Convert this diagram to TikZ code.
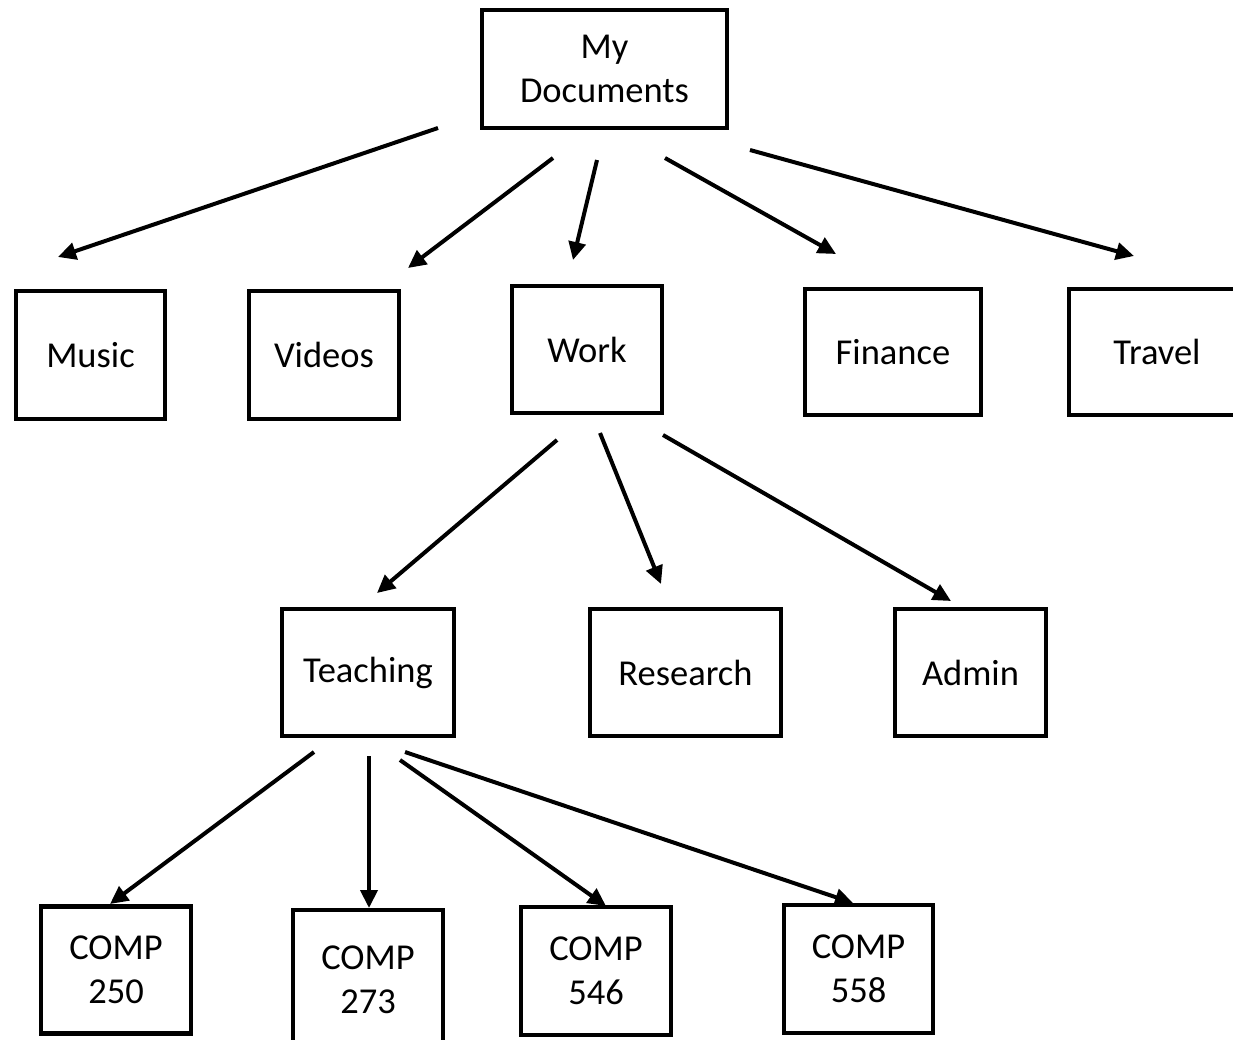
\documentclass[tikz,border=0pt]{standalone}
\usepackage{fontspec}
\setmainfont{Carlito}
\usetikzlibrary{arrows.meta}

\tikzset{
  folder/.style={draw,line width=4.5pt,align=center,inner sep=0pt,
    font=\fontsize{36.5}{44}\selectfont},
  link/.style={-{Triangle[length=18pt,width=17pt]},line width=4pt}
}

\begin{document}
\begin{tikzpicture}[x=1pt,y=-1pt]
\useasboundingbox (0,0) rectangle (1233,1039);

% folders
\node[folder,minimum width=245pt,minimum height=118pt] (docs)    at (604.5,69)  {My\\Documents};

\node[folder,minimum width=149pt,minimum height=128pt] (music)   at (90.5,355)  {Music};
\node[folder,minimum width=150pt,minimum height=128pt] (videos)  at (324,355)   {Videos};
\node[folder,minimum width=150pt,minimum height=127pt] (work)    at (587,349.5) {Work};
\node[folder,minimum width=176pt,minimum height=126pt] (finance) at (893,352)   {Finance};
\node[folder,minimum width=176pt,minimum height=126pt] (travel)  at (1157,352)  {Travel};

\node[folder,minimum width=172pt,minimum height=127pt] (teach)   at (368,672.5) {Teaching};
\node[folder,minimum width=191pt,minimum height=127pt] (research) at (685.5,672.5) {Research};
\node[folder,minimum width=151pt,minimum height=127pt] (admin)   at (970.5,672.5) {Admin};

\node[folder,minimum width=150pt,minimum height=127pt] (c250)    at (116,970)   {COMP\\250};
\node[folder,minimum width=150pt,minimum height=140pt] (c273)    at (368,980)   {COMP\\273};
\node[folder,minimum width=150pt,minimum height=128pt] (c546)    at (596,971)   {COMP\\546};
\node[folder,minimum width=149pt,minimum height=128pt] (c558)    at (858.5,969) {COMP\\558};

% arrow ends
\coordinate (docs-1) at (438,128);  \coordinate (music-in)  at (58,257);
\coordinate (docs-2) at (553,158);  \coordinate (videos-in) at (408,268);
\coordinate (docs-3) at (597,160);  \coordinate (work-in)   at (573,260);
\coordinate (docs-4) at (665,158);  \coordinate (finance-in) at (836,254);
\coordinate (docs-5) at (750,150);  \coordinate (travel-in) at (1134,256);

\coordinate (work-1) at (557,440);  \coordinate (teach-in)  at (377,593);
\coordinate (work-2) at (600,433);  \coordinate (research-in) at (661,584);
\coordinate (work-3) at (663,435);  \coordinate (admin-in)  at (951,601);

\coordinate (teach-1) at (314,752); \coordinate (c250-in) at (110,904);
\coordinate (teach-2) at (369,756); \coordinate (c273-in) at (369,908);
\coordinate (teach-3) at (400,760); \coordinate (c546-in) at (606,906);
\coordinate (teach-4) at (405,752); \coordinate (c558-in) at (853,903);

\draw[link] (docs-1) -- (music-in);
\draw[link] (docs-2) -- (videos-in);
\draw[link] (docs-3) -- (work-in);
\draw[link] (docs-4) -- (finance-in);
\draw[link] (docs-5) -- (travel-in);

\draw[link] (work-1) -- (teach-in);
\draw[link] (work-2) -- (research-in);
\draw[link] (work-3) -- (admin-in);

\draw[link] (teach-1) -- (c250-in);
\draw[link] (teach-2) -- (c273-in);
\draw[link] (teach-3) -- (c546-in);
\draw[link] (teach-4) -- (c558-in);
\end{tikzpicture}
\end{document}
